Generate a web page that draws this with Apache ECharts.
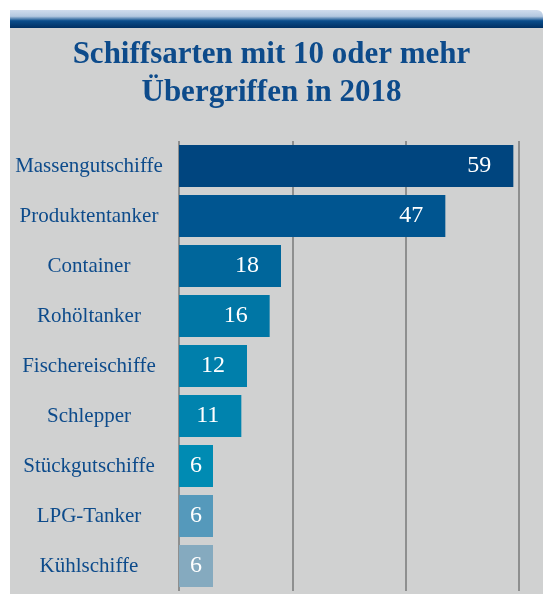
<!DOCTYPE html>
<html><head><meta charset="utf-8">
<script src="https://cdn.jsdelivr.net/npm/echarts@6/dist/echarts.min.js"></script>
<style>html,body{margin:0;padding:0;background:#fff;}#c{width:543px;height:595px;}</style>
</head><body><div id="c"></div>
<script>
const categories = ["Massengutschiffe","Produktentanker","Container","Rohöltanker","Fischereischiffe","Schlepper","Stückgutschiffe","LPG-Tanker","Kühlschiffe"];
const values = [59,47,18,16,12,11,6,6,6];
const barColors = ["#00457f","#005590","#00669b","#0076a5","#007fab","#0083ae","#008bb3","#5599bb","#85aabf"];
const titleText = "Schiffsarten mit 10 oder mehr\nÜbergriffen in 2018";

const chart = echarts.init(document.getElementById('c'), null, {renderer:'canvas'});
const serif = '"Liberation Serif","Times New Roman",serif';
chart.setOption({
  animation:false,
  backgroundColor:'#ffffff',
  graphic:[
    {type:'rect', z:-10, shape:{x:10,y:20,width:533,height:574}, style:{fill:'#d0d1d1'}},
    {type:'rect', z:-9, shape:{x:10,y:10,width:533,height:18,r:[0,6,0,0]},
     style:{fill:new echarts.graphic.LinearGradient(0,0,0,1,[
       {offset:0,color:'#d0dced'},{offset:0.35,color:'#b3c8e0'},{offset:0.6,color:'#0a4d8c'},{offset:1,color:'#002f62'}])}}
  ],
  title:{
    text:titleText, left:'center', top:31,
    textStyle:{fontFamily:serif, fontWeight:'bold', fontSize:31, lineHeight:38, color:'#0d4b8b'}
  },
  grid:{left:179, right:24, top:141, bottom:4, containLabel:false},
  xAxis:{type:'value', min:0, max:60, interval:20,
    axisLabel:{show:false}, axisLine:{show:false}, axisTick:{show:false},
    splitLine:{show:true, lineStyle:{color:'#8e8f8f', width:2}}},
  yAxis:{type:'category', inverse:true, data:categories,
    axisLine:{show:false}, axisTick:{show:false},
    axisLabel:{margin:90, align:'center', fontFamily:serif, fontSize:21, color:'#0d4b8b'}},
  series:[{
    type:'bar', barCategoryGap:'16%',
    data: values.map((v,i)=>({value:v, itemStyle:{color:barColors[i]},
      label:{position: v<10 ? 'inside' : 'insideRight', distance:22}})),
    label:{show:true, fontFamily:serif, fontSize:24, color:'#ffffff'}
  }]
});
</script></body></html>
